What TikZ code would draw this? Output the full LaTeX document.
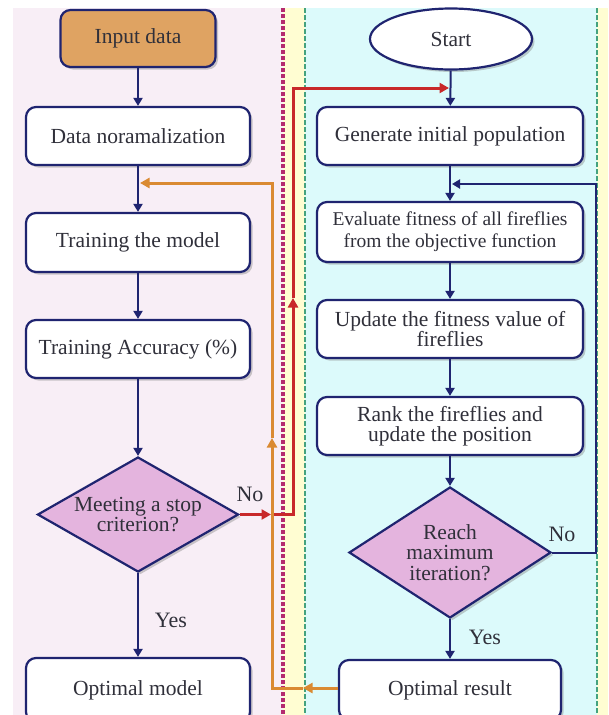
\documentclass[tikz,border=0pt]{standalone}
\usepackage{fontspec}
\setmainfont{Liberation Serif}
\usetikzlibrary{shapes.geometric,arrows.meta,shadows}
\definecolor{navy}{HTML}{1F2470}
\definecolor{txt}{HTML}{30303A}
\definecolor{pinkbg}{HTML}{F8EEF6}
\definecolor{cyanbg}{HTML}{DCFAFB}
\definecolor{yellowbg}{HTML}{FFFDD2}
\definecolor{magdash}{HTML}{B42A6E}
\definecolor{grndash}{HTML}{44A27E}
\definecolor{inpfill}{HTML}{DFA362}
\definecolor{diafill}{HTML}{E4B4DE}
\definecolor{redline}{HTML}{C8282A}
\definecolor{orline}{HTML}{DA8A32}
\tikzset{
  shad/.style={drop shadow={shadow xshift=2.5pt,shadow yshift=-2.5pt,opacity=0.4,fill=gray}},
  box/.style={draw=navy, line width=2.2pt, rounded corners=10pt, fill=white, text=txt,
    font=\fontsize{21.5}{20.5}\selectfont, align=center, inner sep=0pt, shad},
  decision/.style={diamond, draw=navy, line width=2.2pt, fill=diafill, text=txt,
    font=\fontsize{21.5}{20.5}\selectfont, align=center, inner sep=0pt, shad},
  flow/.style={navy, line width=2pt, -{Triangle[width=9pt,length=8pt]}},
  redflow/.style={redline, line width=3pt, -{Triangle[width=10pt,length=9.5pt]}},
  orflow/.style={orline, line width=3pt, -{Triangle[width=10pt,length=9.5pt]}},
  lbl/.style={text=txt, font=\fontsize{22}{22}\selectfont, inner sep=0pt},
}
\begin{document}
\begin{tikzpicture}[x=1pt,y=1pt]
\useasboundingbox (0,0) rectangle (608,-715);
\begin{scope}
\clip (0,0) rectangle (608,-715);
% backgrounds
\fill[pinkbg] (13,-8) rectangle (283,-715);
\fill[yellowbg] (283,-8) rectangle (305,-715);
\fill[cyanbg] (305,-8) rectangle (597,-715);
\fill[yellowbg] (597,-8) rectangle (608,-715);
\draw[magdash, line width=3.2pt, dash pattern=on 4pt off 2pt] (283,-8) -- (283,-715);
\draw[grndash, line width=2.8pt, dash pattern=on 4.5pt off 2.5pt] (305,-8) -- (305,-715);
\draw[grndash, line width=2.8pt, dash pattern=on 4.5pt off 2.5pt] (597,-8) -- (597,-715);

% left column
\node[box, fill=inpfill, minimum width=155pt, minimum height=57pt] (inp) at (138,-38.5) {Input data};
\node[box, minimum width=224pt, minimum height=58pt] (dn) at (138,-136) {Data noramalization};
\node[box, minimum width=224pt, minimum height=59pt] (tm) at (138,-242.5) {Training the model};
\node[box, minimum width=224pt, minimum height=58pt] (ta) at (138,-349) {Training Accuracy (\%)};
\node[decision, aspect=1.75, minimum width=201pt, minimum height=115pt] (d1) at (138,-514.5) {Meeting a stop\\criterion?};
\node[box, minimum width=224pt, minimum height=64pt] (om) at (138,-690) {Optimal model};

% right column
\node[ellipse, draw=navy, line width=2.2pt, fill=white, text=txt, font=\fontsize{21.5}{20.5}\selectfont,
  minimum width=162pt, minimum height=61pt, inner sep=0pt, shad] (st) at (451,-39) {Start};
\node[box, minimum width=266pt, minimum height=58pt] (gp) at (450,-136) {Generate initial population};
\node[box, minimum width=266pt, minimum height=60pt, font=\fontsize{19.5}{22}\selectfont] (ef) at (450,-232) {Evaluate fitness of all fireflies\\from the objective function};
\node[box, minimum width=266pt, minimum height=58pt] (uf) at (450,-329) {Update the fitness value of\\fireflies};
\node[box, minimum width=266pt, minimum height=58pt] (rk) at (450,-426) {Rank the fireflies and\\update the position};
\node[decision, aspect=1.54, minimum width=202pt, minimum height=131pt] (d2) at (450,-552.5) {Reach\\maximum\\iteration?};
\node[box, minimum width=222pt, minimum height=60pt] (ores) at (450,-690) {Optimal result};

% main flows
\draw[flow] (inp) -- (dn);
\draw[flow] (dn) -- (tm);
\draw[flow] (tm) -- (ta);
\draw[flow] (ta) -- (d1);
\draw[flow] (d1) -- (om);
\draw[flow] (st) -- (gp);
\draw[flow] (gp) -- (ef);
\draw[flow] (ef) -- (uf);
\draw[flow] (uf) -- (rk);
\draw[flow] (rk) -- (d2);
\draw[flow] (d2) -- (ores);

% loop back on the right
\coordinate (n1) at (596,-552.5);
\coordinate (n2) at (596,-184);
\coordinate (n3) at (452,-184);
\draw[flow] (d2.east) -- (n1) -- (n2) -- (n3);

% red "No" path
\coordinate (r1) at (271,-514.5);
\coordinate (r2) at (293,-514.5);
\coordinate (r3) at (293,-298);
\coordinate (r4) at (293,-88);
\coordinate (r5) at (449,-88);
\draw[redflow] (d1.east) -- (r1);
\draw[redflow] (r1) -- (r2) -- (r3);
\draw[redflow] (r3) -- (r4) -- (r5);

% orange feedback path
\coordinate (o1) at (303,-688);
\coordinate (o2) at (272,-688);
\coordinate (o3) at (272,-438);
\coordinate (o4) at (272,-183);
\coordinate (o5) at (140,-183);
\draw[orflow] (ores.west |- o1) -- (o1);
\draw[orflow] (o1) -- (o2) -- (o3);
\draw[orflow] (o3) -- (o4) -- (o5);

% labels
\node[lbl] (no1) at (250,-494) {No};
\node[lbl] (yes1) at (171,-620) {Yes};
\node[lbl] (no2) at (562,-534) {No};
\node[lbl] (yes2) at (485,-637) {Yes};
\end{scope}
\end{tikzpicture}
\end{document}
